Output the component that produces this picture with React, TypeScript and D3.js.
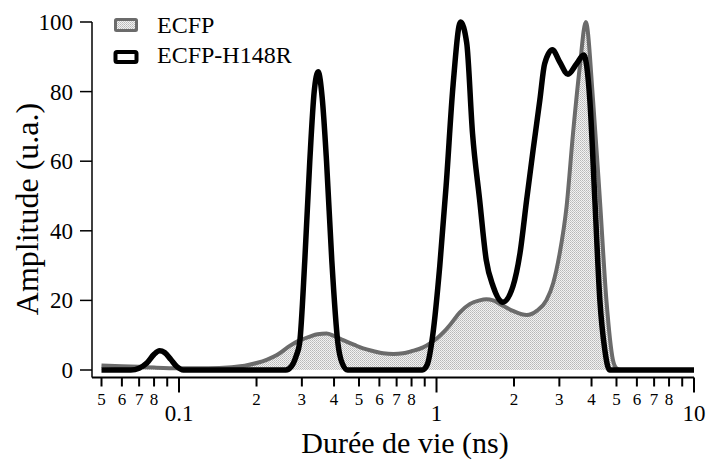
import React from "react";
import * as d3 from "d3";

const ecfpTau = [0.05, 0.06, 0.07, 0.08, 0.1, 0.13, 0.16, 0.18, 0.2, 0.22, 0.24, 0.27, 0.29, 0.322, 0.345, 0.374, 0.4, 0.434, 0.48, 0.519, 0.57, 0.62, 0.68, 0.742, 0.8, 0.887, 0.95, 1.0, 1.07, 1.13, 1.23, 1.35, 1.47, 1.56, 1.66, 1.76, 1.98, 2.24, 2.45, 2.67, 2.84, 3.0, 3.2, 3.39, 3.6, 3.8, 4.06, 4.31, 4.57, 4.84, 5.0, 5.2, 10];
const ecfpAmp = [1.3, 1.1, 0.9, 0.7, 0.5, 0.5, 0.8, 1.2, 2.0, 3.0, 4.3, 7.0, 8.3, 9.6, 10.3, 10.5, 9.8, 8.6, 7.2, 6.2, 5.4, 4.8, 4.6, 4.8, 5.4, 6.5, 7.8, 9.0, 11, 13, 16.5, 19, 20, 20.3, 20, 19, 17, 15.8, 17, 20, 25, 33, 47, 68, 87, 100, 77, 49, 20, 3, 0.5, 0, 0];

const h148rTau = [0.05, 0.065, 0.07, 0.075, 0.08, 0.084, 0.088, 0.093, 0.098, 0.104, 0.2, 0.26, 0.273, 0.285, 0.294, 0.308, 0.322, 0.335, 0.347, 0.36, 0.374, 0.392, 0.414, 0.43, 0.452, 0.8, 0.88, 0.92, 0.967, 1.03, 1.09, 1.16, 1.24, 1.31, 1.38, 1.47, 1.56, 1.66, 1.81, 1.98, 2.11, 2.24, 2.37, 2.52, 2.63, 2.82, 3.01, 3.24, 3.5, 3.73, 3.94, 4.12, 4.31, 4.5, 4.7, 10];
const h148rAmp = [0, 0, 0.5, 2, 4.5, 5.5, 5, 3, 1, 0, 0, 0, 1, 4, 7.7, 31.6, 60, 80, 85.7, 78, 60, 31.6, 7.7, 2, 0, 0, 0, 1.5, 10, 30, 53, 82, 100, 94, 68, 49, 31.6, 24, 19.5, 24, 33.6, 49, 63, 77.6, 88, 92, 88.5, 85, 88, 90.5, 77.6, 49, 20, 6, 0, 0];

const seriesNames = ["ECFP", "ECFP-H148R"];
const yTicks = [0, 20, 40, 60, 80, 100];
const majorTicks = [0.1, 1, 10];
const minorTicks = [0.05, 0.06, 0.07, 0.08, 0.09, 0.2, 0.3, 0.4, 0.5, 0.6, 0.7, 0.8, 0.9, 2, 3, 4, 5, 6, 7, 8, 9];
const minorLabeled = [0.05, 0.06, 0.07, 0.08, 0.2, 0.3, 0.4, 0.5, 0.6, 0.7, 0.8, 2, 3, 4, 5, 6, 7, 8];

const FONT = "'Liberation Serif', 'Times New Roman', serif";
const GRAY = "#6b6b6b";

export default function App() {
  const x = d3.scaleLog().domain([0.05, 10]).range([101.5, 694]);
  const y = d3.scaleLinear().domain([0, 100]).range([370, 22]);
  const axisY = 377.5;
  const axisX = 92;

  const ecfp = ecfpTau.map((t, i) => [t, ecfpAmp[i]] as [number, number]);
  const h148r = h148rTau.map((t, i) => [t, h148rAmp[i]] as [number, number]);

  const line = d3
    .line<[number, number]>()
    .x((d) => x(d[0]))
    .y((d) => y(d[1]))
    .curve(d3.curveMonotoneX);
  const area = d3
    .area<[number, number]>()
    .x((d) => x(d[0]))
    .y0(y(0))
    .y1((d) => y(d[1]))
    .curve(d3.curveMonotoneX);

  const minorLabel = (v: number) => {
    const e = Math.floor(Math.log10(v) + 1e-9);
    return String(Math.round(v / Math.pow(10, e)));
  };

  return (
    <svg width={709} height={461} style={{ position: "absolute", left: 0, top: 0, background: "#fff" }}>
      <defs>
        <pattern id="stipple" width={2} height={2} patternUnits="userSpaceOnUse">
          <rect width={2} height={2} fill="#f2f2f2" />
          <rect x={0} y={0} width={1} height={1} fill="#b8b8b8" />
          <rect x={1} y={1} width={1} height={1} fill="#c8c8c8" />
        </pattern>
      </defs>
      <rect width={709} height={461} fill="#fff" />

      {/* data */}
      <path d={area(ecfp) || ""} fill="url(#stipple)" />
      <path d={line(ecfp) || ""} fill="none" stroke={GRAY} strokeWidth={4} strokeLinejoin="round" />
      <path d={line(h148r) || ""} fill="none" stroke="#000" strokeWidth={5.5} strokeLinejoin="round" />

      {/* y axis */}
      <line x1={axisX} x2={axisX} y1={y(100)} y2={axisY} stroke="#000" strokeWidth={1.5} />
      {yTicks.map((v) => (
        <g key={v}>
          <line x1={axisX - 12} x2={axisX} y1={y(v)} y2={y(v)} stroke="#000" strokeWidth={1.5} />
          <text x={axisX - 19} y={y(v)} dy="0.35em" textAnchor="end" fontFamily={FONT} fontSize={23}>
            {v}
          </text>
        </g>
      ))}
      <text
        transform={`translate(38,${(y(0) + y(100)) / 2 + 13}) rotate(-90)`}
        textAnchor="middle"
        fontFamily={FONT}
        fontSize={32}
      >
        Amplitude (u.a.)
      </text>

      {/* x axis */}
      <line x1={axisX} x2={x(10)} y1={axisY} y2={axisY} stroke="#000" strokeWidth={2} />
      {minorTicks.map((v) => (
        <line key={"m" + v} x1={x(v)} x2={x(v)} y1={axisY} y2={axisY + 9} stroke="#000" strokeWidth={2} />
      ))}
      {majorTicks.map((v) => (
        <line key={"M" + v} x1={x(v)} x2={x(v)} y1={axisY} y2={axisY + 15} stroke="#000" strokeWidth={2} />
      ))}
      {minorLabeled.map((v) => (
        <text key={"ml" + v} x={x(v)} y={405} textAnchor="middle" fontFamily={FONT} fontSize={17}>
          {minorLabel(v)}
        </text>
      ))}
      {majorTicks.map((v) => (
        <text key={"Ml" + v} x={x(v)} y={421} textAnchor="middle" fontFamily={FONT} fontSize={23}>
          {String(v)}
        </text>
      ))}
      <text x={405} y={453} textAnchor="middle" fontFamily={FONT} fontSize={30}>
        Durée de vie (ns)
      </text>

      {/* legend */}
      <rect x={115.5} y={19.5} width={21} height={11} fill="url(#stipple)" stroke={GRAY} strokeWidth={3} rx={1} />
      <text x={157} y={33} fontFamily={FONT} fontSize={24}>
        {seriesNames[0]}
      </text>
      <rect x={115.5} y={52} width={21} height={10} fill="#fff" stroke="#000" strokeWidth={4} rx={1.5} />
      <text x={157} y={63} fontFamily={FONT} fontSize={24}>
        {seriesNames[1]}
      </text>
    </svg>
  );
}
